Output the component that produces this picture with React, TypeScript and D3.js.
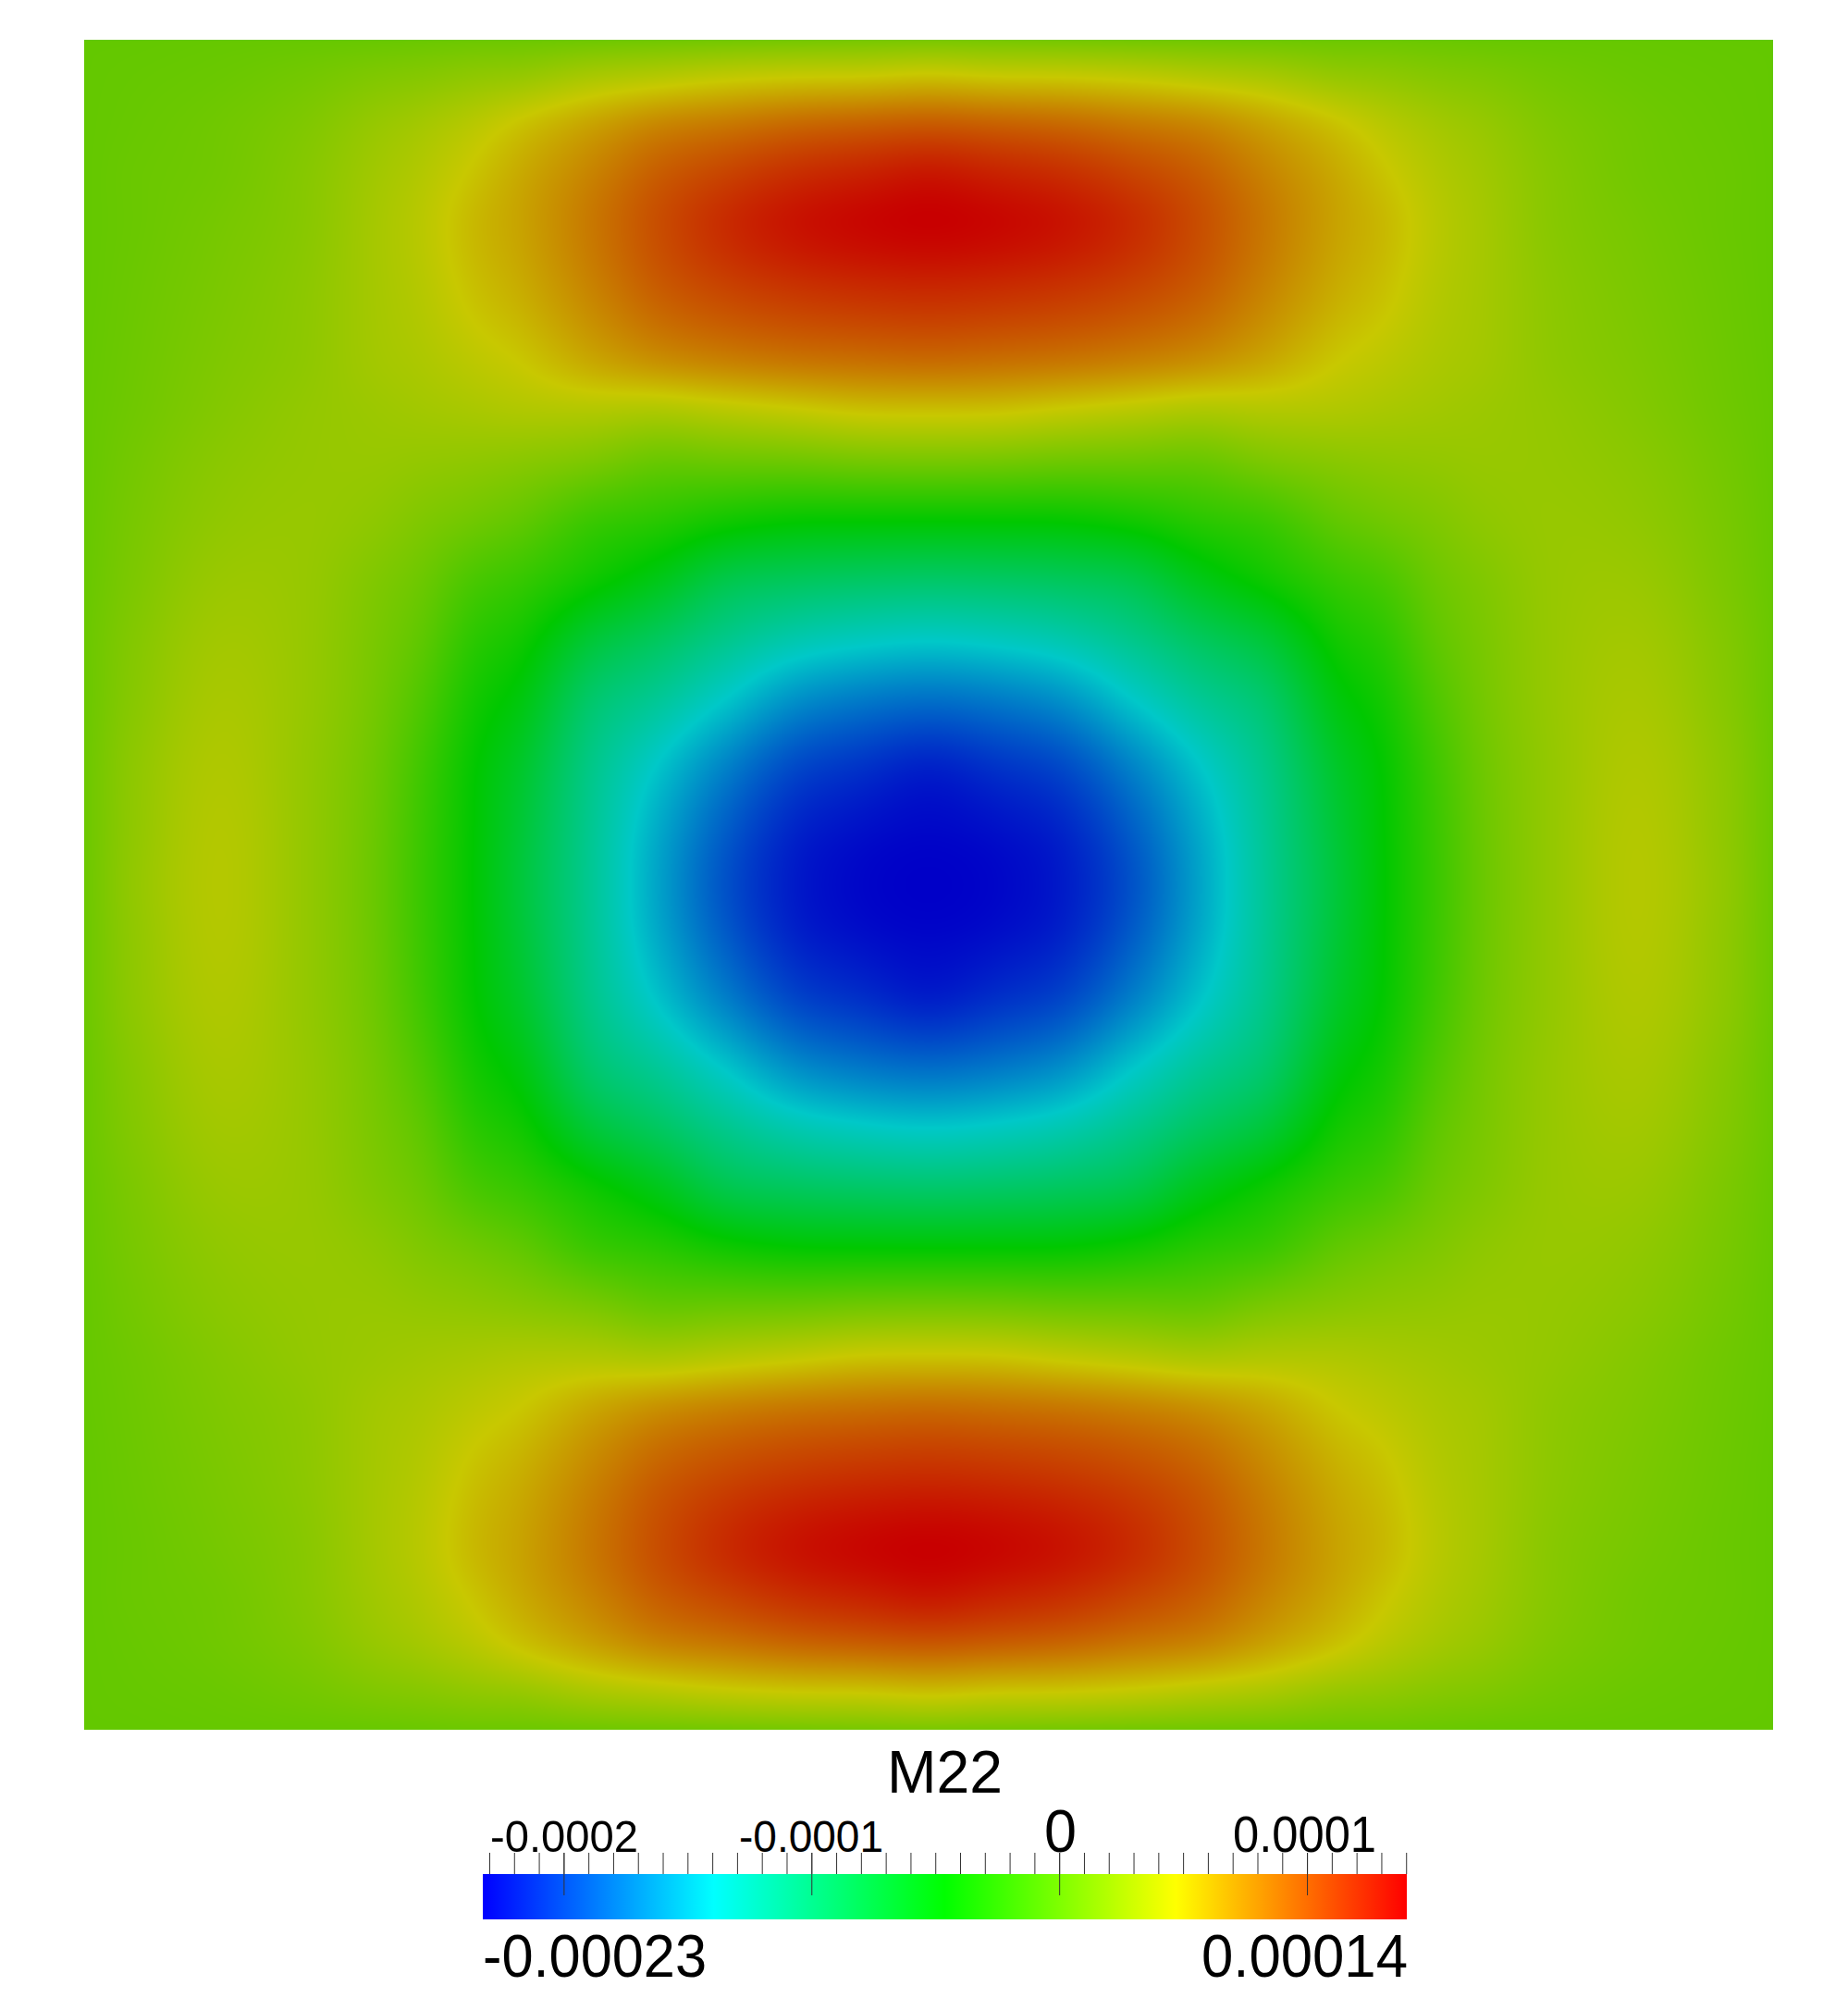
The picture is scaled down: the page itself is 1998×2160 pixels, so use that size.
import React, { useEffect, useRef } from "react";
import * as d3 from "d3";

const fieldU = [0, 0.03, 0.08, 0.13, 0.17, 0.2, 0.23, 0.26, 0.3, 0.34, 0.38, 0.42, 0.46, 0.5];
const fieldV = [0, 0.02, 0.05, 0.08, 0.11, 0.15, 0.19, 0.22, 0.25, 0.285, 0.32, 0.356, 0.39, 0.43, 0.47, 0.5];
const fieldColumns = [
  [0, 0, 0, 0, 0, 0, 0.05, 0.1, 0.1, 0.15, 0.2, 0.3, 0.3, 0.4, 0.4, 0.4],
  [0, 0.1, 0.2, 0.3, 0.3, 0.4, 0.5, 0.6, 0.8, 1, 1.2, 1.5, 1.7, 2, 2.1, 2.2],
  [0.1, 0.3, 0.6, 0.7, 0.9, 1.1, 1.3, 1.5, 1.8, 2.1, 2.5, 2.9, 3.2, 3.5, 3.7, 3.75],
  [0.15, 0.7, 1.3, 1.6, 1.7, 1.9, 2, 2.2, 2.3, 2.4, 2.4, 2.4, 2.4, 2.3, 2.3, 2.3],
  [0.2, 1.2, 2.3, 2.8, 3, 3, 2.9, 2.6, 2.4, 2, 1.4, 1.1, 0.9, 0.6, 0.45, 0.4],
  [0.3, 1.5, 3, 3.7, 4, 3.8, 3.4, 2.9, 2.2, 1.3, 0.4, -0.3, -1, -1.7, -1.95, -2],
  [0.4, 1.9, 3.9, 4.9, 5.4, 5, 4.1, 3.2, 2, 0.6, -1.2, -2.6, -3.6, -4.4, -4.6, -4.65],
  [0.4, 2.2, 5, 6.2, 6.5, 6, 4.8, 3.5, 1.7, -0.2, -2.2, -4, -5.4, -6.7, -7.3, -7.5],
  [0.5, 3, 6.4, 7.9, 8.4, 7.8, 6.2, 3.6, 1.1, -1.9, -4, -7.2, -9.5, -10.9, -11.4, -11.5],
  [0.6, 3.5, 7.7, 9.7, 10.4, 9.6, 7.3, 3.4, 0.2, -2.8, -5.8, -9.1, -11.6, -14.1, -15.4, -15.7],
  [0.7, 4, 8.4, 10.9, 12, 10.7, 8, 3.9, 0.3, -3.9, -8.1, -11.2, -14, -17.2, -19, -19.5],
  [0.8, 4.3, 9.1, 11.9, 13.1, 11.4, 8.5, 4.4, 0.4, -4.5, -8.9, -12.8, -16.4, -19.8, -21.6, -22],
  [0.9, 4.4, 9.5, 12.5, 13.7, 11.8, 8.8, 4.9, 0.7, -4.6, -9.3, -13.6, -17.5, -20.9, -22.6, -23],
  [1, 4.69, 9.8, 13, 14, 12, 9, 5, 0.8, -4.64, -9.5, -13.96, -18, -21.7, -23, -23.28],
];

const rangeMin = -23.28;
const rangeMax = 14.01;
const majorTicks = [-20, -10, 0, 10];
const minorTicks = d3.range(-23, 15, 1);
const rainbow = ["#0000ff", "#00ffff", "#00ff00", "#ffff00", "#ff0000"];
const lighting = 0.785;

const PLOT = { x0: 91, x1: 1917, y0: 43, y1: 1870 };
const BAR = { x0: 522, x1: 1521, y0: 2026, y1: 2075, tickTop: 2003, majorEnd: 2049 };

const labels = [
  { text: "M22", x: 959, y: 1938, size: 64, width: 125 },
  { text: "-0.0002", x: 530, y: 2002, size: 49, width: 160 },
  { text: "-0.0001", x: 799, y: 2002, size: 49, width: 156 },
  { text: "0", x: 1129, y: 2002, size: 64, width: 35 },
  { text: "0.0001", x: 1333, y: 2002, size: 56, width: 155 },
  { text: "-0.00023", x: 522, y: 2137, size: 65, width: 242 },
  { text: "0.00014", x: 1299, y: 2137, size: 65, width: 223 },
];

function hermite(xs: number[], ys: number[], x: number, flatEnd: boolean) {
  const n = xs.length;
  let i = d3.bisectRight(xs, x) - 1;
  if (i < 0) i = 0;
  if (i > n - 2) i = n - 2;
  const tan = (k: number) => {
    if (k === 0) return (ys[1] - ys[0]) / (xs[1] - xs[0]);
    if (k === n - 1) return flatEnd ? 0 : (ys[n - 1] - ys[n - 2]) / (xs[n - 1] - xs[n - 2]);
    return (ys[k + 1] - ys[k - 1]) / (xs[k + 1] - xs[k - 1]);
  };
  const h = xs[i + 1] - xs[i];
  const t = (x - xs[i]) / h;
  const t2 = t * t;
  const t3 = t2 * t;
  return (
    (2 * t3 - 3 * t2 + 1) * ys[i] +
    (t3 - 2 * t2 + t) * h * tan(i) +
    (-2 * t3 + 3 * t2) * ys[i + 1] +
    (t3 - t2) * h * tan(i + 1)
  );
}

const stops = d3.range(5).map((k) => rangeMin + (k / 4) * (rangeMax - rangeMin));
const barColor = d3.scaleLinear<string>().domain(stops).range(rainbow).interpolate(d3.interpolateRgb).clamp(true);
const litColor = d3
  .scaleLinear<string>()
  .domain(stops)
  .range(rainbow.map((c) => { const r = d3.rgb(c); return d3.rgb(r.r * lighting, r.g * lighting, r.b * lighting).formatRgb(); }))
  .clamp(true);

const xScale = d3.scaleLinear().domain([0, 1]).range([PLOT.x0, PLOT.x1]);
const yScale = d3.scaleLinear().domain([0, 1]).range([PLOT.y0, PLOT.y1]);
const barX = d3.scaleLinear().domain([-23.28, 14.01]).range([BAR.x0, BAR.x1]);

function renderField(): string {
  const w = Math.round(xScale(1) - xScale(0));
  const h = Math.round(yScale(1) - yScale(0));
  const canvas = document.createElement("canvas");
  canvas.width = w;
  canvas.height = h;
  const ctx = canvas.getContext("2d")!;
  const img = ctx.createImageData(w, h);
  const halfW = Math.ceil(w / 2);
  const halfH = Math.ceil(h / 2);
  // colour lookup
  const lut: number[][] = d3.range(2048).map((i) => {
    const c = d3.rgb(litColor(rangeMin + (i / 2047) * (rangeMax - rangeMin)));
    return [c.r, c.g, c.b];
  });
  const yv = d3.range(halfH).map((j) => (j + 0.5) / h);
  for (let i = 0; i < halfW; i++) {
    const u = Math.min((i + 0.5) / w, 0.5);
    const across = fieldV.map((_, r) => hermite(fieldU, fieldColumns.map((c) => c[r]), u, true));
    for (let j = 0; j < halfH; j++) {
      const val = hermite(fieldV, across, yv[j], true);
      const k = Math.max(0, Math.min(2047, Math.round(((val - rangeMin) / (rangeMax - rangeMin)) * 2047)));
      const c = lut[k];
      for (const [px, py] of [[i, j], [w - 1 - i, j], [i, h - 1 - j], [w - 1 - i, h - 1 - j]]) {
        const o = (py * w + px) * 4;
        img.data[o] = c[0];
        img.data[o + 1] = c[1];
        img.data[o + 2] = c[2];
        img.data[o + 3] = 255;
      }
    }
  }
  ctx.putImageData(img, 0, 0);
  return canvas.toDataURL("image/png");
}

export default function App() {
  const imgRef = useRef<SVGImageElement>(null);
  useEffect(() => {
    if (imgRef.current) imgRef.current.setAttribute("href", renderField());
  }, []);
  return (
    <svg width={1998} height={2160} style={{ position: "absolute", left: 0, top: 0, display: "block", background: "#fff" }}>
      <defs>
        <linearGradient id="bar" x1="0" x2="1" y1="0" y2="0">
          {stops.map((s, i) => (
            <stop key={i} offset={i / 4} stopColor={barColor(s)} />
          ))}
        </linearGradient>
      </defs>
      <image ref={imgRef} x={xScale(0)} y={yScale(0)} width={xScale(1) - xScale(0)} height={yScale(1) - yScale(0)} preserveAspectRatio="none" />
      <rect x={BAR.x0} y={BAR.y0} width={BAR.x1 - BAR.x0} height={BAR.y1 - BAR.y0} fill="url(#bar)" />
      {minorTicks.map((t) => (
        <line key={t} x1={barX(t)} x2={barX(t)} y1={BAR.tickTop} y2={BAR.y0} stroke="#333" strokeWidth={1} />
      ))}
      {majorTicks.map((t) => (
        <line key={t} x1={barX(t)} x2={barX(t)} y1={BAR.tickTop} y2={BAR.majorEnd} stroke="#333" strokeWidth={1} />
      ))}
      {labels.map((l) => (
        <text key={l.text} x={l.x} y={l.y} fontFamily="'Liberation Sans', Arial, sans-serif" fontSize={l.size} fill="#000" textLength={l.width} lengthAdjust="spacingAndGlyphs">
          {l.text}
        </text>
      ))}
    </svg>
  );
}
